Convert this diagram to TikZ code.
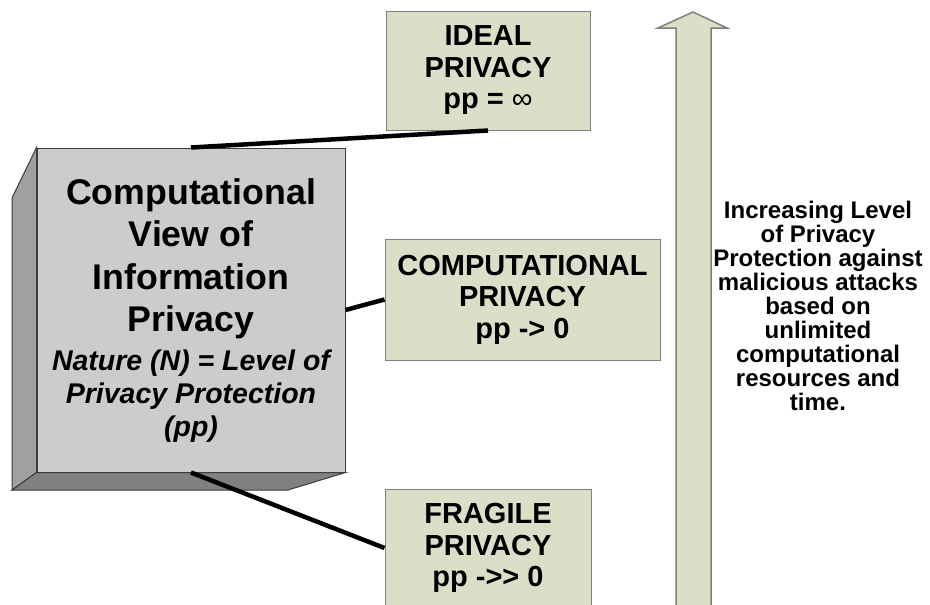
\documentclass[tikz,border=0pt]{standalone}
\usepackage{fontspec}
\setmainfont[Ligatures=NoCommon]{Liberation Sans}
\definecolor{khaki}{RGB}{221,222,200}
\definecolor{boxline}{RGB}{128,128,128}
\definecolor{frontgray}{RGB}{204,204,204}
\definecolor{sidegray}{RGB}{160,160,160}
\definecolor{bottomgray}{RGB}{128,128,128}
\definecolor{edgegray}{RGB}{60,60,60}
\begin{document}
\begin{tikzpicture}[x=1pt,y=-1pt,
  levelbox/.style={draw=boxline, line width=1pt, fill=khaki, align=center, inner sep=0pt,
    font=\fontsize{29}{31.5}\selectfont\bfseries},
  conn/.style={line width=4.5pt, black},
  face/.style={draw=edgegray, line width=1pt}]
\useasboundingbox (0,0) rectangle (930,605);
\clip (0,0) rectangle (930,605);
% 3D block
\node[face, fill=frontgray, minimum width=308pt, minimum height=324pt, inner sep=0pt] (main) at (191,310) {};
\coordinate (backtop) at (12,198);
\coordinate (backbot) at (12,490);
\coordinate (botright) at (288,490);
\draw[face, fill=sidegray] (main.north west) -- (backtop) -- (backbot) -- (main.south west) -- cycle;
\draw[face, fill=bottomgray] (main.south west) -- (backbot) -- (botright) -- (main.south east) -- cycle;
\node[anchor=north, inner sep=0pt, align=center, font=\fontsize{35.7}{42.5}\selectfont\bfseries] (title) at (191,178)
  {Computational\\View of\\Information\\Privacy};
\node[anchor=north, inner sep=0pt, align=center, font=\fontsize{28.5}{33}\selectfont\bfseries\itshape] (nature) at (191,350)
  {Nature (N) = Level of\\Privacy Protection\\(pp)};
% level boxes
\node[levelbox, minimum width=204pt, minimum height=119pt] (ideal) at (488,70.5)
  {IDEAL\\PRIVACY\\pp = \textmd{∞}};
\node[levelbox, minimum width=275pt, minimum height=121pt] (comp) at (522.5,299.5)
  {COMPUTATIONAL\\PRIVACY\\pp -\mbox{>} 0};
\node[levelbox, minimum width=206pt, minimum height=118pt] (fragile) at (488,548)
  {FRAGILE\\PRIVACY\\pp -\mbox{>}\mbox{>} 0};
% connectors
\draw[conn] (main.north) -- (ideal.south);
\draw[conn] (main.east) -- (comp.west);
\draw[conn] (main.south) -- (fragile.west);
% big arrow
\draw[draw=boxline, line width=1.5pt, fill=khaki, line join=miter]
  (676,620) -- (676,28) -- (658,28) -- (693,12) -- (727,28) -- (711,28) -- (711,620) -- cycle;
% side text
\node[inner sep=0pt, align=center, font=\fontsize{24}{23.9}\selectfont\bfseries] (sidetext) at (818,306)
  {Increasing Level\\of Privacy\\Protection against\\malicious attacks\\based on\\unlimited\\computational\\resources and\\time.};
\end{tikzpicture}
\end{document}
